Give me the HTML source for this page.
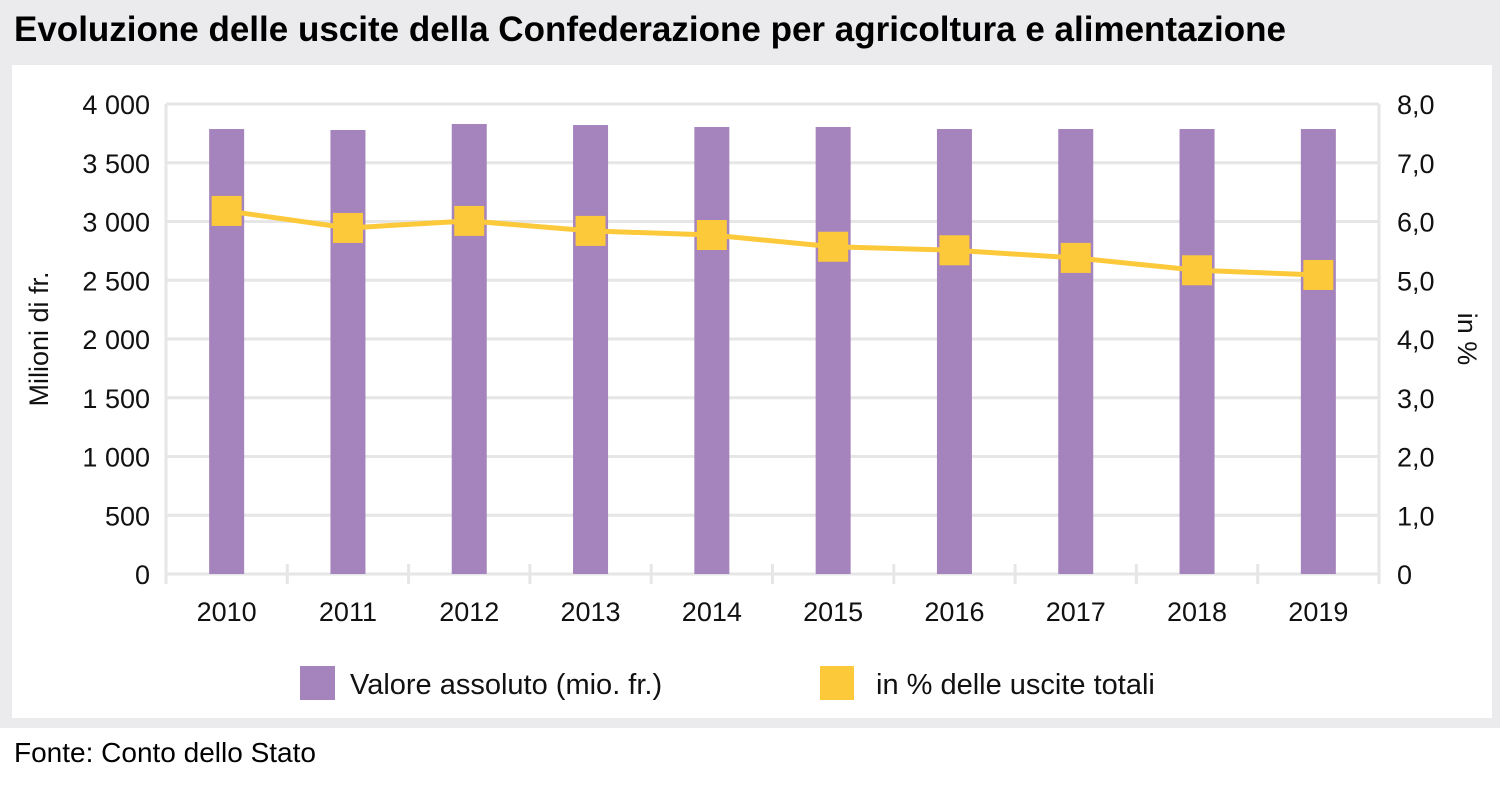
<!DOCTYPE html>
<html><head><meta charset="utf-8"><style>
html,body{margin:0;padding:0;width:1500px;height:787px;overflow:hidden;background:#fff;font-family:"Liberation Sans",sans-serif}
#bg{position:absolute;left:0;top:0;width:1500px;height:728px;background:#ebebed}
#title{position:absolute;left:14px;top:10px;font-size:35px;font-weight:bold;color:#000;white-space:nowrap}
#panel{position:absolute;left:12px;top:65px;width:1480px;height:653px;background:#fff}
#src{position:absolute;left:14px;top:737px;font-size:28px;white-space:nowrap}
svg{position:absolute;left:0;top:0}
text{font-family:"Liberation Sans",sans-serif;font-size:27px;fill:#111}
</style></head><body>
<div id="bg"></div>
<div id="title">Evoluzione delle uscite della Confederazione per agricoltura e alimentazione</div>
<div id="panel"></div>
<div id="src">Fonte: Conto dello Stato</div>
<svg id="chart" width="1500" height="787"></svg>
<script>
const categories=["2010","2011","2012","2013","2014","2015","2016","2017","2018","2019"];
const absValues=[3787,3779,3830,3821,3804,3804,3787,3787,3787,3787];
const pctValues=[6.18,5.89,6.01,5.84,5.77,5.57,5.51,5.38,5.17,5.09];
const leftTicks=[0,500,1000,1500,2000,2500,3000,3500,4000];
const leftTickLabels=["0","500","1 000","1 500","2 000","2 500","3 000","3 500","4 000"];
const rightTicks=[0,1,2,3,4,5,6,7,8];
const rightTickLabels=["0","1,0","2,0","3,0","4,0","5,0","6,0","7,0","8,0"];

const svg=document.getElementById('chart');
const NS='http://www.w3.org/2000/svg';
const X0=166,X1=1379,Y0=574,Y1=104;
const band=(X1-X0)/categories.length;
const xc=i=>X0+band*(i+0.5);
const yL=v=>Y0-(v/4000)*(Y0-Y1);
const yR=v=>Y0-(v/8)*(Y0-Y1);
function mk(tag,attrs,txt){const e=document.createElementNS(NS,tag);for(const k in attrs)e.setAttribute(k,attrs[k]);if(txt!==undefined)e.textContent=txt;svg.appendChild(e);return e;}

leftTicks.forEach((t,i)=>{
  const g=mk('line',{x1:X0,x2:X1,y1:yL(t),y2:yL(t),stroke:'#e6e6e6','stroke-width':3});
  
  
  const l=mk('text',{x:150,y:yL(t)+10,'text-anchor':'end'},leftTickLabels[i]);
  
  
});
rightTicks.forEach((t,i)=>{
  const l=mk('text',{x:1397,y:yR(t)+10},rightTickLabels[i]);
  
  
});
let a=mk('line',{x1:X0,x2:X0,y1:Y1,y2:Y0+10,stroke:'#e6e6e6','stroke-width':3});


a=mk('line',{x1:X1,x2:X1,y1:Y1,y2:Y0+10,stroke:'#e6e6e6','stroke-width':3});


for(let i=1;i<categories.length;i++){
  const t=mk('line',{x1:X0+band*i,x2:X0+band*i,y1:Y0-10,y2:Y0+10,stroke:'#e6e6e6','stroke-width':3});
  
  
}
categories.forEach((c,i)=>{
  const b=mk('rect',{x:xc(i)-17.5,y:yL(absValues[i]),width:35,height:Y0-yL(absValues[i]),fill:'#a583bd'});
  
  
  const l=mk('text',{x:xc(i),y:621,'text-anchor':'middle'},c);
  
  
});
const pts=pctValues.map((v,i)=>xc(i)+','+yR(v)).join(' ');
const pl=mk('polyline',{points:pts,fill:'none',stroke:'#fcc93b','stroke-width':5});


pctValues.forEach((v,i)=>{
  const m=mk('rect',{x:xc(i)-15,y:yR(v)-15,width:30,height:30,fill:'#fcc93b'});
  
  
});
let t=mk('text',{x:0,y:0,transform:'translate(48,339) rotate(-90)','text-anchor':'middle'},'Milioni di fr.');


t=mk('text',{x:0,y:0,transform:'translate(1458,339) rotate(90)','text-anchor':'middle'},'in %');


let r=mk('rect',{x:300,y:666,width:35,height:34,fill:'#a583bd'});


t=mk('text',{x:350,y:694,style:'font-size:29px'},'Valore assoluto (mio. fr.)');


r=mk('rect',{x:820,y:666,width:34,height:34,fill:'#fcc93b'});


t=mk('text',{x:876,y:694,style:'font-size:29px'},'in % delle uscite totali');


</script>
</body></html>
